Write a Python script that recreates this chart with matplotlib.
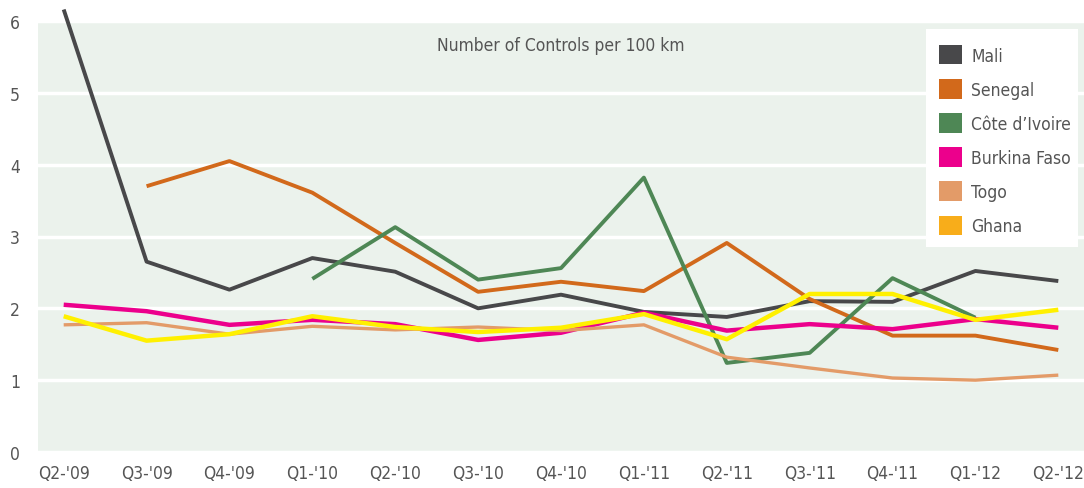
import numpy as np
import matplotlib
matplotlib.use('Agg')
import matplotlib.pyplot as plt
from matplotlib.patches import Patch, Rectangle

plt.rcParams['font.family'] = ['DejaVu Sans']
plt.rcParams['font.stretch'] = 'condensed'

quarters = ["Q2-'09", "Q3-'09", "Q4-'09", "Q1-'10", "Q2-'10", "Q3-'10", "Q4-'10",
            "Q1-'11", "Q2-'11", "Q3-'11", "Q4-'11", "Q1-'12", "Q2-'12"]

nan = np.nan
mali = [6.16, 2.65, 2.26, 2.70, 2.51, 2.00, 2.19, 1.95, 1.88, 2.10, 2.09, 2.52, 2.38]
senegal = [nan, 3.70, 4.05, 3.61, 2.91, 2.23, 2.37, 2.24, 2.91, 2.13, 1.62, 1.62, 1.42]
cote_divoire = [nan, nan, nan, 2.41, 3.13, 2.40, 2.56, 3.82, 1.24, 1.38, 2.42, 1.87, nan]
burkina_faso = [2.05, 1.96, 1.77, 1.84, 1.78, 1.56, 1.66, 1.94, 1.69, 1.78, 1.71, 1.85, 1.73]
togo = [1.77, 1.80, 1.64, 1.75, 1.70, 1.74, 1.69, 1.77, 1.32, 1.17, 1.03, 1.00, 1.07]
ghana = [1.89, 1.55, 1.64, 1.89, 1.74, 1.67, 1.73, 1.92, 1.57, 2.20, 2.20, 1.84, 1.98]

# (name, values, line colour, legend colour, line width)
series = [
    ('Mali', mali, '#48484a', '#48484a', 2.8),
    ('Senegal', senegal, '#d2691b', '#d2691b', 2.8),
    ("Côte d’Ivoire", cote_divoire, '#4e8755', '#4e8755', 2.8),
    ('Burkina Faso', burkina_faso, '#ec008c', '#ec008c', 3.2),
    ('Togo', togo, '#e39b68', '#e39b68', 2.4),
    ('Ghana', ghana, '#fff000', '#f8ad1a', 3.2),
]

W, H = 1084, 489
L, R, T, B = 38, 1084, 22, 453   # plot area in pixels

fig = plt.figure(figsize=(W / 100, H / 100), dpi=100)
ax = fig.add_axes([L / W, 1 - B / H, (R - L) / W, (B - T) / H])
ax.set_facecolor('#ebf2ec')


def ax_xy(px, py):
    """pixel position -> axes fraction"""
    return (px - L) / (R - L), (B - py) / (B - T)


x = np.arange(len(quarters))
for name, vals, lc, _, lw in series:
    ax.plot(x, vals, color=lc, linewidth=lw, solid_capstyle='butt',
            clip_on=(name != 'Mali'), zorder=3)

ax.set_xlim(-0.31, 12.31)
ax.set_ylim(0, 6)
ax.set_yticks(range(0, 7))
ax.set_xticks(x)
ax.set_xticklabels(quarters)
ax.tick_params(axis='both', length=0, labelsize=12.5, labelcolor='#555555')
ax.tick_params(axis='x', pad=9)
ax.tick_params(axis='y', pad=13)
ax.grid(axis='y', color='white', linewidth=2.5, zorder=1)
ax.set_axisbelow(True)
for s in ax.spines.values():
    s.set_visible(False)

ax.text(0.5, 0.944, 'Number of Controls per 100 km', transform=ax.transAxes,
        ha='center', va='center', fontsize=12.5, color='#555555')

# white legend box drawn by hand so the padding can match
x0, y1 = ax_xy(926, 30)
x1, y0 = ax_xy(1078, 248)
ax.add_patch(Rectangle((x0, y0), x1 - x0, y1 - y0, transform=ax.transAxes,
                       facecolor='white', edgecolor='none', zorder=4))

handles = [Patch(facecolor=lg, edgecolor='none', label=name) for name, _, _, lg, _ in series]
leg = ax.legend(handles=handles, loc='upper left', bbox_to_anchor=ax_xy(939, 46),
                borderaxespad=0, borderpad=0, fontsize=12.5, frameon=False,
                handlelength=1.35, handleheight=1.35, handletextpad=0.5,
                labelspacing=0.84, labelcolor='#555555')
leg.set_zorder(5)

fig.savefig('out.png', dpi=100)
